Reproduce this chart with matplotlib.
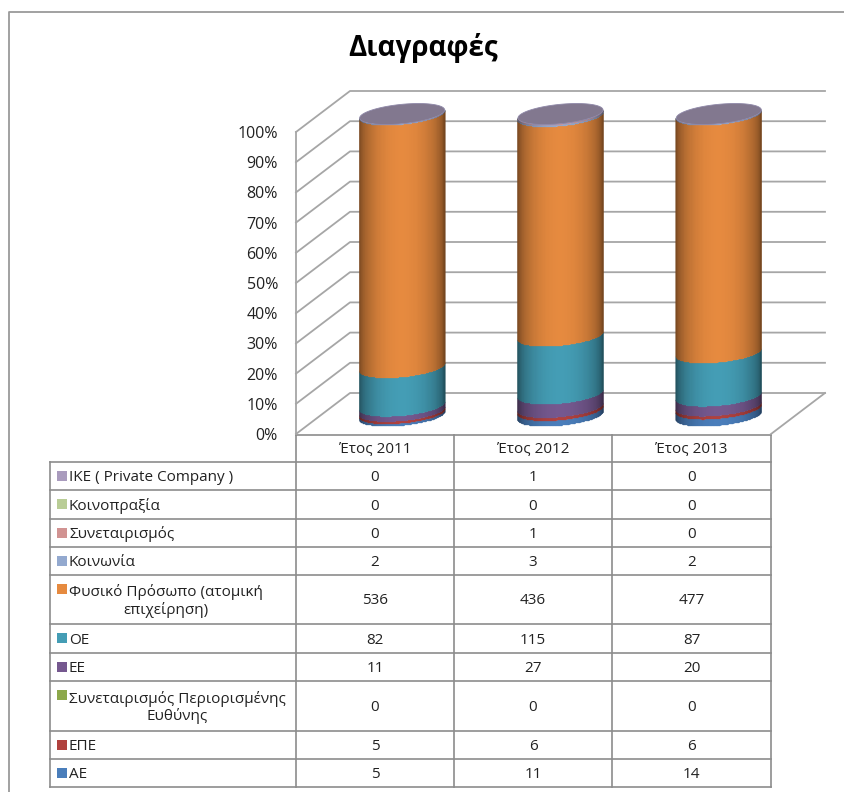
import numpy as np
from matplotlib import pyplot as plt
from matplotlib.colors import to_rgb
from matplotlib.patches import Polygon, Rectangle

plt.rcParams['font.family'] = ['Open Sans', 'DejaVu Sans']

years = ['Έτος 2011', 'Έτος 2012', 'Έτος 2013']

# bottom of the stack first
ae = [5, 11, 14]
epe = [5, 6, 6]
spe = [0, 0, 0]
ee = [11, 27, 20]
oe = [82, 115, 87]
fysiko = [536, 436, 477]
koinonia = [2, 3, 2]
synet = [0, 1, 0]
koinopraxia = [0, 0, 0]
ike = [0, 1, 0]

series = [ae, epe, spe, ee, oe, fysiko, koinonia, synet, koinopraxia, ike]
names = ['ΑΕ', 'ΕΠΕ', 'Συνεταιρισμός Περιορισμένης\nΕυθύνης', 'ΕΕ', 'ΟΕ',
         'Φυσικό Πρόσωπο (ατομική\nεπιχείρηση)', 'Κοινωνία', 'Συνεταιρισμός',
         'Κοινοπραξία', 'ΙΚΕ ( Private Company )']
colors = ['#4A7EBB', '#B0413E', '#8CA84B', '#75588F', '#449DB5',
          '#E68A3F', '#93A9CF', '#D19392', '#B9CD96', '#A99BBD']
cap_color = '#82788F'
grid_color = '#A6A6A6'
table_color = '#8C8C8C'

W, H = 844, 792
fig = plt.figure(figsize=(W / 100, H / 100), dpi=100)

# pixel axes for the frame, title and table
page = fig.add_axes([0, 0, 1, 1])
page.set_xlim(0, W)
page.set_ylim(H, 0)
page.axis('off')

# chart axes = front plane of the 3d box
left, right, top, bottom = 296, 771, 132, 434
ax = fig.add_axes([left / W, 1 - bottom / H, (right - left) / W, (bottom - top) / H])
ax.patch.set_alpha(0)
ax.set_xlim(0, 3)
ax.set_ylim(0, 100)
for s in ax.spines.values():
    s.set_visible(False)
ax.set_xticks([])
ax.set_yticks(np.arange(0, 101, 10))
ax.set_yticklabels([f'{v}%' for v in range(0, 101, 10)], fontsize=11.5, color='#222222')
ax.tick_params(axis='y', length=0, pad=13)

px_x = 3 / (right - left)
px_y = 100 / (bottom - top)
depth_x, depth_y = 54 * px_x, 41 * px_y

# walls
ax.plot([0, 0], [0, 100], color=grid_color, lw=1.3, clip_on=False)
for v in range(0, 101, 10):
    ax.plot([0, depth_x, 3 + depth_x], [v, v + depth_y, v + depth_y],
            color=grid_color, lw=1.3, clip_on=False)
ax.plot([3, 3 + depth_x], [0, depth_y], color=grid_color, lw=1.3, clip_on=False)

# cylinders
rad_x = 42.5 * px_x
tilt = 4 * px_y
rad_y = 9.7 * px_y
mid_x, mid_y = 27 * px_x, 18 * px_y
theta = np.linspace(np.pi, 2 * np.pi, 91)
shade = 0.5 + 0.5 * np.abs(np.sin((theta[:-1] + theta[1:]) / 2)) ** 1.2

totals = np.sum(series, axis=0)
for i in range(len(years)):
    cx = i + 0.5 + mid_x
    base = 0.0
    xs = cx + rad_x * np.cos(theta)
    for vals, col in zip(series, colors):
        if vals[i] == 0:
            continue
        h = 100 * vals[i] / totals[i]
        curve = mid_y + tilt * np.cos(theta) + rad_y * np.sin(theta)
        X = np.vstack([xs, xs])
        Y = np.vstack([base + curve, base + h + curve])
        rgb = np.outer(shade, to_rgb(col))[None, :, :]
        ax.pcolormesh(X, Y, rgb, shading='flat', clip_on=False, antialiased=True,
                      edgecolors='face', linewidth=0.2, zorder=3)
        base += h
    t = np.linspace(0, 2 * np.pi, 181)
    ax.add_patch(Polygon(np.column_stack([cx + rad_x * np.cos(t),
                                          100 + mid_y + tilt * np.cos(t) + rad_y * np.sin(t)]),
                         closed=True, fc=cap_color, ec='#8F88A8', lw=0.6,
                         clip_on=False, zorder=4))

# outer frame
page.plot([9, 9, 844], [792, 12, 12], color='#9A9A9A', lw=1.3)
page.text(423, 48, 'Διαγραφές', fontsize=20, fontweight='bold', ha='center', va='center', color='black')

# table
col_x = [50, 296, 454, 612, 771]
row_y = [462, 490, 519, 547, 575, 624, 653, 681, 731, 759, 787]
header_top = 435
text_dy = 1.5

for x in col_x[1:]:
    page.plot([x, x], [header_top, row_y[-1]], color=table_color, lw=1.2)
page.plot([col_x[0], col_x[0]], [row_y[0], row_y[-1]], color=table_color, lw=1.2)
page.plot([col_x[1], col_x[-1]], [header_top, header_top], color=table_color, lw=1.2)
for y in row_y:
    page.plot([col_x[0], col_x[-1]], [y, y], color=table_color, lw=1.2)

for j, year in enumerate(years):
    page.text((col_x[j + 1] + col_x[j + 2]) / 2, (header_top + row_y[0]) / 2 + text_dy, year,
              fontsize=11, ha='center', va='center', color='#222222')

for r, k in enumerate(range(len(series) - 1, -1, -1)):
    y0, y1 = row_y[r], row_y[r + 1]
    page.add_patch(Rectangle((57, y0 + 9), 9.5, 10, fc=colors[k], ec='none'))
    page.text(69, (y0 + y1) / 2 + text_dy, names[k], fontsize=11, ha='left', va='center',
              multialignment='center', linespacing=1.1, color='#222222')
    for j in range(len(years)):
        page.text((col_x[j + 1] + col_x[j + 2]) / 2, (y0 + y1) / 2 + text_dy, str(series[k][j]),
                  fontsize=11, ha='center', va='center', color='#222222')

fig.savefig('out.png', dpi=100)
